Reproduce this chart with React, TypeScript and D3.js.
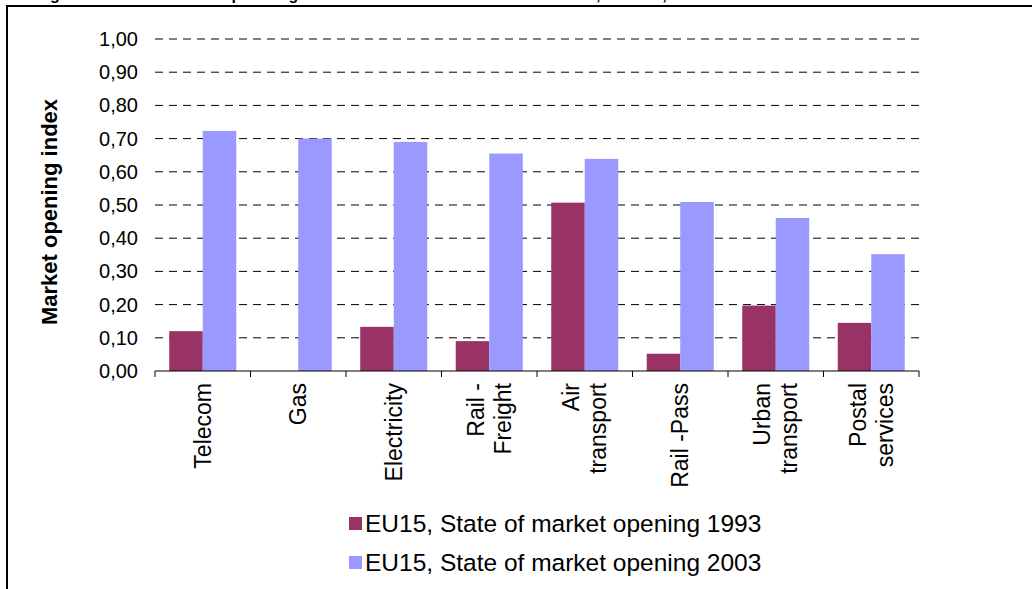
import React from 'react';
import * as d3 from 'd3';

// chart data
const categories = ['Telecom', 'Gas', 'Electricity', 'Rail - Freight', 'Air transport', 'Rail -Pass', 'Urban transport', 'Postal services'];
const categoryLines = [['Telecom'], ['Gas'], ['Electricity'], ['Rail -', 'Freight'], ['Air', 'transport'], ['Rail -Pass'], ['Urban', 'transport'], ['Postal', 'services']];
const values1993 = [0.12, 0, 0.133, 0.09, 0.507, 0.052, 0.197, 0.145];
const values2003 = [0.723, 0.70, 0.69, 0.655, 0.639, 0.509, 0.461, 0.352];
const seriesNames = ['EU15, State of market opening 1993', 'EU15, State of market opening 2003'];
const seriesColors = ['#993366', '#9999FF'];
const yTicks = [0, 0.1, 0.2, 0.3, 0.4, 0.5, 0.6, 0.7, 0.8, 0.9, 1.0];
const yTitle = 'Market opening index';
const title = 'Figure 10: Market opening in selected network sectors, EU15, 1993 and 2003';

const W = 1032;
const H = 589;
const plot = { left: 155, right: 919, top: 39, bottom: 371 };

const App = () => {
  const x0 = d3.scaleBand().domain(categories).range([plot.left, plot.right]).padding(0);
  const x1 = d3.scaleBand().domain(seriesNames).range([0, x0.bandwidth()]).paddingInner(0).paddingOuter(0.425);
  const y = d3.scaleLinear().domain([0, 1]).range([plot.bottom, plot.top]);
  const fmt = (v: number) => d3.format('.2f')(v).replace('.', ',');
  const series = [values1993, values2003];
  const boundaries = [...categories.map(c => x0(c) as number), plot.right];

  return (
    <svg width={W} height={H} style={{ position: 'absolute', left: 0, top: 0, background: '#fff' }}
      fontFamily="Arial, 'Liberation Sans', sans-serif">
      {/* title, cut off by the top edge as in the source */}
      <text x={30} y={0} fontSize={16} fontWeight="bold" textLength={790} lengthAdjust="spacing">{title}</text>
      {/* frame */}
      <rect x={7} y={6} width={1100} height={700} fill="none" stroke="#000" strokeWidth={2} />

      {/* gridlines */}
      {yTicks.filter(t => t > 0).map(t => (
        <line key={t} x1={plot.left} x2={plot.right} y1={y(t)} y2={y(t)}
          stroke="#000" strokeWidth={1} strokeDasharray="8,6" />
      ))}
      {/* y tick labels */}
      {yTicks.map(t => (
        <text key={t} x={138} y={y(t)} dy="0.35em" textAnchor="end" fontSize={20} fill="#000">{fmt(t)}</text>
      ))}
      <text transform={`translate(57,212) rotate(-90)`} textAnchor="middle"
        fontSize={22} fontWeight="bold">{yTitle}</text>

      {/* bars */}
      {series.map((vals, si) => vals.map((v, i) => (
        <rect key={`${si}-${i}`} x={(x0(categories[i]) as number) + (x1(seriesNames[si]) as number)}
          y={y(v)} width={x1.bandwidth()} height={plot.bottom - y(v)} fill={seriesColors[si]} />
      )))}

      {/* x axis */}
      <line x1={plot.left} x2={plot.right} y1={plot.bottom} y2={plot.bottom} stroke="#000" strokeWidth={1} />
      {boundaries.map((b, i) => (
        <line key={i} x1={b} x2={b} y1={plot.bottom} y2={plot.bottom + 6} stroke="#000" strokeWidth={1} />
      ))}
      {categories.map((c, i) => {
        const cx = (x0(c) as number) + x0.bandwidth() / 2;
        const lines = categoryLines[i];
        const gap = 27;
        return lines.map((ln, j) => {
          const lx = cx + (j - (lines.length - 1) / 2) * gap;
          return (
            <text key={`${i}-${j}`} transform={`translate(${lx + 8},${plot.bottom + 12}) rotate(-90)`}
              textAnchor="end" fontSize={23}>{ln}</text>
          );
        });
      })}

      {/* legend */}
      {seriesNames.map((s, i) => (
        <g key={s} transform={`translate(349,${517 + i * 39})`}>
          <rect x={0} y={0} width={13} height={13} fill={seriesColors[i]} />
          <text x={16} y={15} fontSize={24.5}>{s}</text>
        </g>
      ))}
    </svg>
  );
};

export default App;
